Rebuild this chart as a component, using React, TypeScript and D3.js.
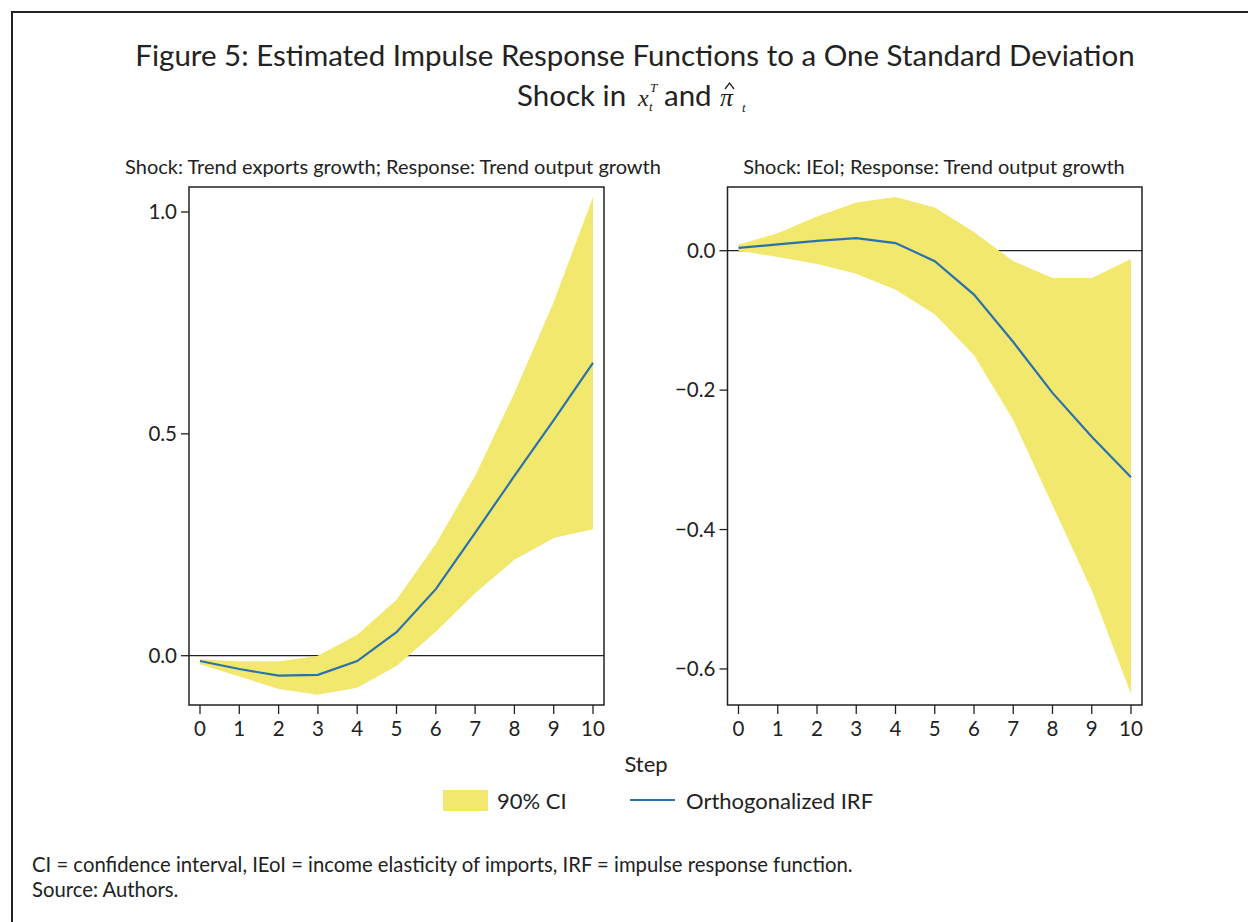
import React from "react";
import * as d3 from "d3";

const steps = [0, 1, 2, 3, 4, 5, 6, 7, 8, 9, 10];

// Panel 1: Shock: Trend exports growth; Response: Trend output growth
const irf1 = [-0.012, -0.03, -0.045, -0.043, -0.012, 0.053, 0.15, 0.277, 0.405, 0.531, 0.66];
const upper1 = [-0.008, -0.013, -0.013, 0.0, 0.047, 0.126, 0.252, 0.405, 0.592, 0.797, 1.034];
const lower1 = [-0.019, -0.047, -0.075, -0.088, -0.072, -0.023, 0.054, 0.141, 0.216, 0.265, 0.285];
const yTicks1 = [0, 0.5, 1.0];

// Panel 2: Shock: IEoI; Response: Trend output growth
const irf2 = [0.004, 0.009, 0.014, 0.018, 0.011, -0.015, -0.063, -0.131, -0.204, -0.267, -0.325];
const upper2 = [0.009, 0.025, 0.049, 0.069, 0.077, 0.062, 0.027, -0.015, -0.039, -0.039, -0.012];
const lower2 = [0.0, -0.009, -0.019, -0.033, -0.056, -0.091, -0.15, -0.243, -0.365, -0.487, -0.636];
const yTicks2 = [0, -0.2, -0.4, -0.6];

const titleLine1 = "Figure 5: Estimated Impulse Response Functions to a One Standard Deviation";
const subtitle1 = "Shock: Trend exports growth; Response: Trend output growth";
const subtitle2 = "Shock: IEoI; Response: Trend output growth";
const xAxisTitle = "Step";
const legendCI = "90% CI";
const legendIRF = "Orthogonalized IRF";
const note1 = "CI = confidence interval, IEoI = income elasticity of imports, IRF = impulse response function.";
const note2 = "Source: Authors.";

const YELLOW = "#f2e86d";
const BLUE = "#2a72ad";
const INK = "#222222";
const FONT = "Lato, 'Open Sans', sans-serif";

type PanelProps = {
  x0: number; x1: number; top: number; bottom: number;
  domain: [number, number];
  irf: number[]; upper: number[]; lower: number[];
  yTicks: number[];
  subtitle: string; subtitleX: number;
};

function fmt(v: number) {
  const s = d3.format(".1f")(Math.abs(v));
  return v < 0 ? "\u2212" + s : s;
}

function Panel(p: PanelProps) {
  const pad = 11;
  const x = d3.scaleLinear().domain([0, 10]).range([p.x0 + pad, p.x1 - pad]);
  const y = d3.scaleLinear().domain(p.domain).range([p.bottom, p.top]);
  const area = d3.area<number>()
    .x((_, i) => x(steps[i]))
    .y0((_, i) => y(p.lower[i]))
    .y1((_, i) => y(p.upper[i]));
  const line = d3.line<number>()
    .x((_, i) => x(steps[i]))
    .y((d) => y(d));
  return (
    <g>
      <text x={p.subtitleX} y={174} textAnchor="middle" fontSize={20} fill={INK} fontFamily={FONT}>{p.subtitle}</text>
      <line x1={p.x0} x2={p.x1} y1={y(0)} y2={y(0)} stroke={INK} strokeWidth={1.3} />
      <path d={area(p.irf) || ""} fill={YELLOW} />
      <path d={line(p.irf) || ""} fill="none" stroke={BLUE} strokeWidth={2.2} />
      <rect x={p.x0} y={p.top} width={p.x1 - p.x0} height={p.bottom - p.top} fill="none" stroke={INK} strokeWidth={1.5} />
      {p.yTicks.map((t) => (
        <g key={t}>
          <line x1={p.x0 - 8} x2={p.x0} y1={y(t)} y2={y(t)} stroke={INK} strokeWidth={1.3} />
          <text x={p.x0 - 12} y={y(t)} dy="0.35em" textAnchor="end" fontSize={20.5} fill={INK} fontFamily={FONT}>{fmt(t)}</text>
        </g>
      ))}
      {steps.map((s) => (
        <g key={s}>
          <line x1={x(s)} x2={x(s)} y1={p.bottom} y2={p.bottom + 9} stroke={INK} strokeWidth={1.3} />
          <text x={x(s)} y={p.bottom + 24} dy="0.35em" textAnchor="middle" fontSize={20.5} fill={INK} fontFamily={FONT}>{s}</text>
        </g>
      ))}
    </g>
  );
}

export default function App() {
  const serif = "'Liberation Serif', 'DejaVu Serif', serif";
  return (
    <svg width={1248} height={922} style={{ position: "absolute", left: 0, top: 0, background: "#fff" }}>
      <rect x={0} y={0} width={1248} height={922} fill="#fff" />
      <line x1={11} x2={1248} y1={12} y2={12} stroke={INK} strokeWidth={2} />
      <line x1={12} x2={12} y1={11} y2={922} stroke={INK} strokeWidth={2} />

      <text x={635} y={66} textAnchor="middle" fontSize={29.5} fill={INK} fontFamily={FONT}>{titleLine1}</text>
      <text x={517} y={106} fontSize={29.5} fill={INK} fontFamily={FONT}>Shock in</text>
      <text x={638} y={106} fontSize={24} fill={INK} fontFamily={serif} fontStyle="italic">x</text>
      <text x={650} y={92} fontSize={13} fill={INK} fontFamily={serif} fontStyle="italic">T</text>
      <text x={649} y={111} fontSize={13} fill={INK} fontFamily={serif} fontStyle="italic">t</text>
      <text x={664} y={106} fontSize={29.5} fill={INK} fontFamily={FONT}>and</text>
      <text x={720} y={106} fontSize={26} fill={INK} fontFamily={serif} fontStyle="italic">{"\u03C0"}</text>
      <path d="M725 89 L729.5 83 L734 89" fill="none" stroke={INK} strokeWidth={1.3} />
      <text x={742} y={112} fontSize={13} fill={INK} fontFamily={serif} fontStyle="italic">t</text>

      <Panel x0={189} x1={604} top={187} bottom={705} domain={[-0.1111, 1.0563]}
        irf={irf1} upper={upper1} lower={lower1} yTicks={yTicks1} subtitle={subtitle1} subtitleX={393} />
      <Panel x0={727.5} x1={1142} top={187} bottom={705} domain={[-0.6517, 0.0914]}
        irf={irf2} upper={upper2} lower={lower2} yTicks={yTicks2} subtitle={subtitle2} subtitleX={934} />

      <text x={646} y={772} textAnchor="middle" fontSize={22} fill={INK} fontFamily={FONT}>{xAxisTitle}</text>
      <rect x={443} y={790} width={45} height={21} fill={YELLOW} />
      <text x={497} y={809} fontSize={22} fill={INK} fontFamily={FONT}>{legendCI}</text>
      <line x1={630} x2={675} y1={800} y2={800} stroke={BLUE} strokeWidth={2.2} />
      <text x={686} y={809} fontSize={22} fill={INK} fontFamily={FONT}>{legendIRF}</text>

      <text x={32} y={872} fontSize={20.3} fill={INK} fontFamily={FONT}>{note1}</text>
      <text x={32} y={897} fontSize={20.3} fill={INK} fontFamily={FONT}>{note2}</text>
    </svg>
  );
}
